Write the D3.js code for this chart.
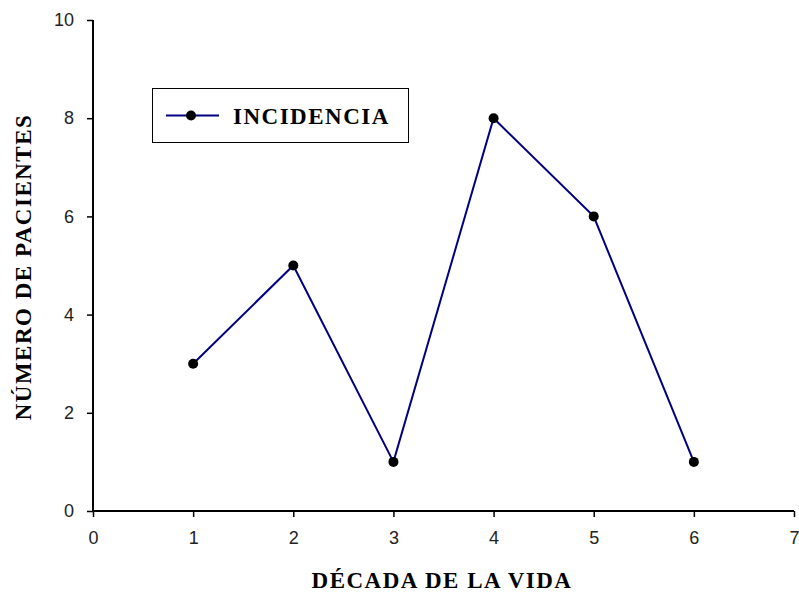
<!DOCTYPE html>
<html>
<head>
<meta charset="utf-8">
<script src="https://cdn.jsdelivr.net/npm/d3@7"></script>
<style>
  body { margin: 0; background: #fff; }
  svg { display: block; }
</style>
</head>
<body>
<svg id="chart" width="799" height="596"></svg>
<script>
// Incidencia por década de la vida
const decades = [1, 2, 3, 4, 5, 6];
const patients = [3, 5, 1, 8, 6, 1];
const xTicks = [0, 1, 2, 3, 4, 5, 6, 7];
const yTicks = [0, 2, 4, 6, 8, 10];
const seriesName = "INCIDENCIA";
const xTitle = "DÉCADA DE LA VIDA";
const yTitle = "NÚMERO DE PACIENTES";

const svg = d3.select("#chart");
const plotLeft = 93, plotRight = 794, plotTop = 20, plotBottom = 511;

const x = d3.scaleLinear().domain([0, 7]).range([plotLeft, plotRight]);
const y = d3.scaleLinear().domain([0, 10]).range([plotBottom, plotTop]);

const tickFont = "Arial, 'Liberation Sans', sans-serif";
const titleFont = "'Times New Roman', 'Liberation Serif', 'DejaVu Serif', serif";
const titleSize = 23;
const titleSpacing = 1.5;

// X axis
const gx = svg.append("g")
  .attr("transform", `translate(0,${plotBottom})`)
  .call(d3.axisBottom(x).tickValues(xTicks).tickSize(6).tickPadding(14).tickFormat(d3.format("d")));
gx.select(".domain").attr("stroke", "#000").attr("stroke-width", 2)
  .attr("d", `M${plotLeft},0H${plotRight}`);
gx.selectAll(".tick line").attr("stroke", "#000").attr("stroke-width", 1.5);
gx.selectAll(".tick text").attr("font-family", tickFont).attr("font-size", 18).attr("fill", "#222");

// Y axis
const gy = svg.append("g")
  .attr("transform", `translate(${plotLeft},0)`)
  .call(d3.axisLeft(y).tickValues(yTicks).tickSize(6).tickPadding(13).tickFormat(d3.format("d")));
gy.select(".domain").attr("stroke", "#000").attr("stroke-width", 2)
  .attr("d", `M0,${plotTop}V${plotBottom}`);
gy.selectAll(".tick line").attr("stroke", "#000").attr("stroke-width", 1.5);
gy.selectAll(".tick text").attr("font-family", tickFont).attr("font-size", 18).attr("fill", "#222");

// Series line with markers
const data = decades.map((d, i) => ({ x: d, y: patients[i] }));
svg.append("path")
  .datum(data)
  .attr("fill", "none")
  .attr("stroke", "#000080")
  .attr("stroke-width", 2)
  .attr("d", d3.line().x(d => x(d.x)).y(d => y(d.y)));

svg.selectAll("circle.pt")
  .data(data)
  .join("circle")
  .attr("class", "pt")
  .attr("cx", d => x(d.x))
  .attr("cy", d => y(d.y))
  .attr("r", 5)
  .attr("fill", "#000");

// Legend
const lg = svg.append("g");
lg.append("rect")
  .attr("x", 152.5).attr("y", 88.5).attr("width", 256).attr("height", 54)
  .attr("fill", "#fff").attr("stroke", "#000").attr("stroke-width", 1);
lg.append("line")
  .attr("x1", 166).attr("x2", 219).attr("y1", 115.5).attr("y2", 115.5)
  .attr("stroke", "#000080").attr("stroke-width", 2);
lg.append("circle").attr("cx", 191).attr("cy", 115.5).attr("r", 5).attr("fill", "#000");
lg.append("text")
  .attr("x", 233).attr("y", 124)
  .attr("font-family", titleFont).attr("font-weight", "bold").attr("font-size", titleSize)
  .attr("letter-spacing", titleSpacing).attr("fill", "#000")
  .text(seriesName);

// Axis titles
svg.append("text")
  .attr("x", 442).attr("y", 588)
  .attr("text-anchor", "middle")
  .attr("font-family", titleFont).attr("font-weight", "bold").attr("font-size", titleSize)
  .attr("letter-spacing", titleSpacing).attr("fill", "#000")
  .text(xTitle);

svg.append("text")
  .attr("transform", "translate(31,267) rotate(-90)")
  .attr("text-anchor", "middle")
  .attr("font-family", titleFont).attr("font-weight", "bold").attr("font-size", titleSize)
  .attr("letter-spacing", titleSpacing).attr("fill", "#000")
  .text(yTitle);
</script>
</body>
</html>
